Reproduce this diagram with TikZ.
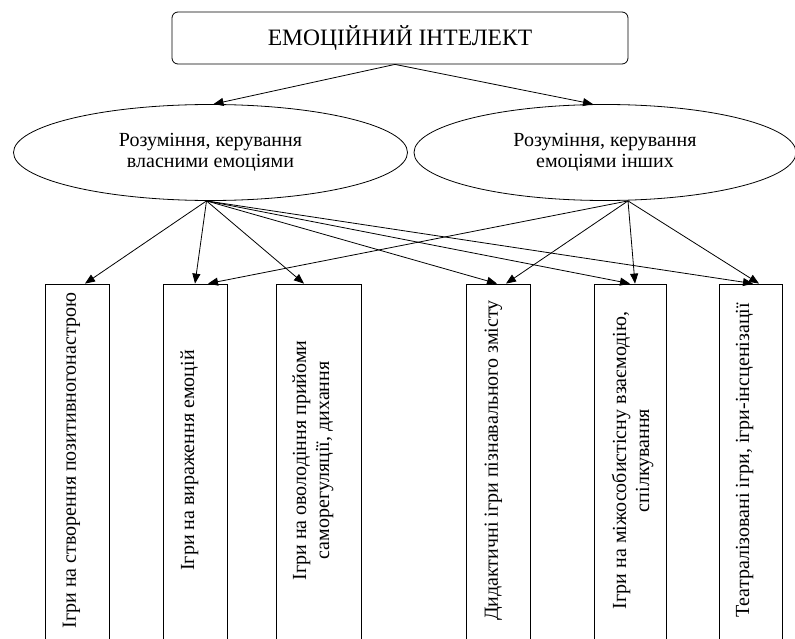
\documentclass[tikz,border=0pt]{standalone}
\usepackage{fontspec}
\setmainfont{Liberation Serif}
\newfontfamily\tnr{Liberation Serif}
\usetikzlibrary{arrows.meta,shapes.geometric}
\begin{document}
\begin{tikzpicture}[x=1pt,y=-1pt,
  arr/.style={-{Triangle[length=10pt,width=8pt]}, line width=0.8pt},
  topbox/.style={draw, line width=0.8pt, rounded corners=6pt, minimum width=456pt, minimum height=52pt, inner sep=0pt, font=\tnr\fontsize{23.5}{26}\selectfont},
  ell/.style={draw, ellipse, line width=0.8pt, minimum height=96pt, inner sep=0pt, align=center, font=\tnr\fontsize{20}{21}\selectfont},
  gbox/.style={draw, line width=0.8pt, minimum height=362pt, inner sep=0pt},
  rot/.style={rotate=90, inner sep=0pt, align=center, font=\tnr\fontsize{20}{23}\selectfont}]
\useasboundingbox (0,0) rectangle (795,639);
\clip (0,0) rectangle (795,639);
\fill[white] (0,0) rectangle (795,639);

\node[topbox] (top) at (400,38) {ЕМОЦІЙНИЙ ІНТЕЛЕКТ};

\node[ell, minimum width=394pt] (e1) at (210.5,152.5) {Розуміння, керування\\власними емоціями};
\node[ell, minimum width=382pt] (e2) at (605,152.5) {Розуміння, керування\\емоціями інших};

\node[gbox, minimum width=64pt] (b1) at (77,465) {};
\node[gbox, minimum width=64pt] (b2) at (195,465) {};
\node[gbox, minimum width=85pt] (b3) at (318.5,465) {};
\node[gbox, minimum width=64pt] (b4) at (498,465) {};
\node[gbox, minimum width=72pt] (b5) at (630,465) {};
\node[gbox, minimum width=63pt] (b6) at (750.5,465) {};

\node[rot] (t1) at (71.5,460.5) {Ігри на створення позитивногонастрою};
\node[rot] (t2) at (189.5,460.5) {Ігри на вираження емоцій};
\node[rot] (t3) at (313,460.5) {Ігри на оволодіння прийоми\\саморегуляції, дихання};
\node[rot] (t4) at (493.5,460.5) {Дидактичні ігри пізнавального змісту};
\node[rot] (t5) at (632.5,460.5) {Ігри на міжособистісну взаємодію,\\спілкування};
\node[rot] (t6) at (744.5,460.5) {Театралізовані ігри, ігри-інсценізації};

\draw[arr] ([xshift=-5pt]top.south) -- ([xshift=3pt]e1.north);
\draw[arr] ([xshift=-5pt]top.south) -- ([xshift=-12pt]e2.north);

\draw[arr] ([xshift=-4pt]e1.south) -- ([xshift=8pt]b1.north);
\draw[arr] ([xshift=-4pt]e1.south) -- (b2.north);
\draw[arr] ([xshift=-4pt]e1.south) -- ([xshift=-14.5pt]b3.north);
\draw[arr] ([xshift=-4pt]e1.south) -- ([xshift=-1pt]b4.north);
\draw[arr] ([xshift=-4pt]e1.south) -- (b5.north);
\draw[arr] ([xshift=-4pt]e1.south) -- ([xshift=2.5pt]b6.north);

\draw[arr] ([xshift=23pt]e2.south) -- ([xshift=13pt]b2.north);
\draw[arr] ([xshift=23pt]e2.south) -- ([xshift=8pt]b4.north);
\draw[arr] ([xshift=23pt]e2.south) -- ([xshift=5pt]b5.north);
\draw[arr] ([xshift=23pt]e2.south) -- ([xshift=8.5pt]b6.north);
\end{tikzpicture}
\end{document}
